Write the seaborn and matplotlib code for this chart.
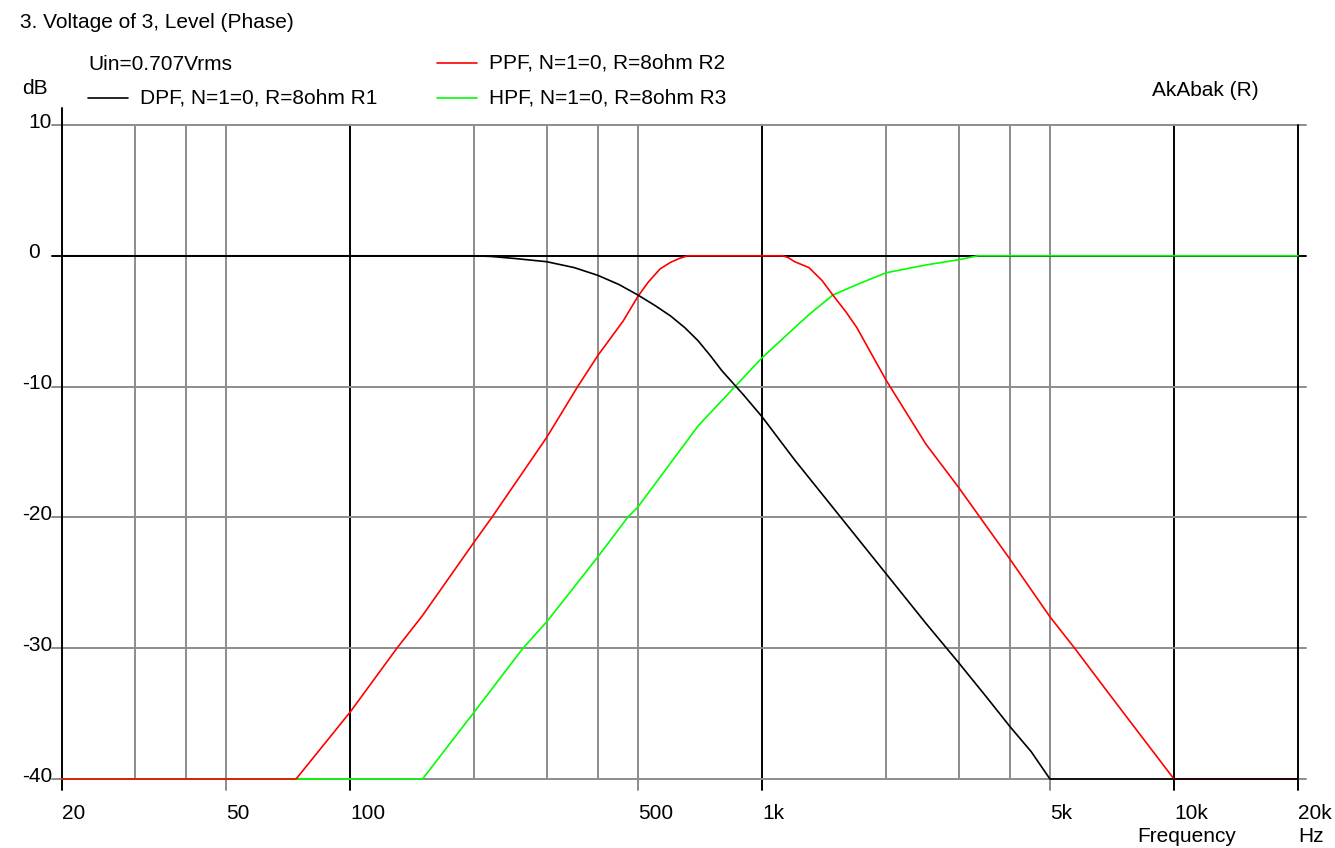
import numpy as np
import pandas as pd
import matplotlib
matplotlib.use("Agg")
import matplotlib.pyplot as plt
from matplotlib.lines import Line2D
from matplotlib.transforms import ScaledTranslation
import seaborn as sns

# --- Data ---
freq_dpf = [20, 200, 220, 250, 300, 350, 400, 450, 500, 550, 600, 650, 700, 750, 800, 900,
            1000, 1200, 1500, 2000, 2500, 3000, 3500, 4000, 4500, 5000, 20000]
db_dpf = [0, 0, -0.05, -0.2, -0.45, -0.9, -1.5, -2.2, -3.0, -3.8, -4.6, -5.5, -6.5, -7.65, -8.8,
          -10.6, -12.3, -15.6, -19.4, -24.3, -28.1, -31.1, -33.7, -36.0, -37.9, -40, -40]

freq_ppf = [20, 74, 100, 130, 150, 200, 221, 300, 357, 400, 460, 500, 530, 566, 600, 630, 660,
            1124, 1160, 1200, 1300, 1400, 1486, 1600, 1700, 2000, 2500, 3000, 4000, 5000,
            5740, 7000, 10000, 20000]
db_ppf = [-40, -40, -34.9, -30, -27.5, -21.9, -20.0, -13.9, -10, -7.6, -5, -3.1, -2.0, -1, -0.5,
          -0.2, 0, 0, -0.15, -0.45, -0.9, -1.9, -3, -4.3, -5.5, -9.5, -14.4, -17.7, -23.2,
          -27.6, -30, -33.6, -40, -40]

freq_hpf = [20, 150, 200, 263, 300, 400, 472, 500, 700, 860, 1000, 1200, 1300, 1486, 1700,
            2000, 2500, 3000, 3340, 20000]
db_hpf = [-40, -40, -34.9, -30, -28, -23, -20, -19.2, -13, -10, -7.8, -5.5, -4.5, -3, -2.2,
          -1.3, -0.7, -0.3, 0, 0]

series_names = ["DPF, N=1=0, R=8ohm R1", "PPF, N=1=0, R=8ohm R2", "HPF, N=1=0, R=8ohm R3"]
series_colors = ["#000000", "#ff0000", "#00ff00"]

x_ticks = [20, 50, 100, 500, 1000, 5000, 10000, 20000]
x_labels = ["20", "50", "100", "500", "1k", "5k", "10k", "20k"]
x_grid_gray = [30, 40, 50, 200, 300, 400, 500, 2000, 3000, 4000, 5000]
x_grid_black = [100, 1000, 10000]
y_ticks = [10, 0, -10, -20, -30, -40]
y_labels = ["10", "0", "-10", "-20", "-30", "-40"]

df = pd.concat([
    pd.DataFrame({"freq": freq_hpf, "db": db_hpf, "curve": series_names[2]}),
    pd.DataFrame({"freq": freq_ppf, "db": db_ppf, "curve": series_names[1]}),
    pd.DataFrame({"freq": freq_dpf, "db": db_dpf, "curve": series_names[0]}),
])

# --- Figure setup ---
sns.set_style("white")
plt.rcParams["font.family"] = ["Liberation Sans", "DejaVu Sans"]
plt.rcParams["text.color"] = "black"
plt.rcParams["xtick.color"] = "black"
plt.rcParams["xtick.labelcolor"] = "black"
FS = 15

W, H = 1335, 848
fig = plt.figure(figsize=(W / 100, H / 100), dpi=100)
L, R, T, B = 62, 1298, 125, 779
ax = fig.add_axes([L / W, 1 - B / H, (R - L) / W, (B - T) / H])

ax.set_xscale("log")
ax.set_xlim(20, 20000)
ax.set_ylim(-40, 10)
for s in ax.spines.values():
    s.set_visible(False)

pw, ph = R - L, B - T
gray = "#8c8c8c"
glw = 1.4

# vertical grid
for f in x_grid_gray:
    ymin = -11 / ph if f in x_ticks else 0
    ax.axvline(f, ymin=ymin, ymax=1, color=gray, lw=glw, zorder=1, clip_on=False)
for f in x_grid_black:
    ax.axvline(f, ymin=-11 / ph, ymax=1, color="black", lw=glw, zorder=1, clip_on=False)
ax.axvline(20, ymin=-11 / ph, ymax=1 + 17 / ph, color="black", lw=glw, zorder=2, clip_on=False)
ax.axvline(20000, ymin=-11 / ph, ymax=1, color="black", lw=glw, zorder=2, clip_on=False)

# horizontal grid
for v in y_ticks:
    c = "black" if v == 0 else gray
    ax.axhline(v, xmin=-10 / pw, xmax=1 + 8 / pw, color=c, lw=glw, zorder=1, clip_on=False)

# curves
sns.lineplot(data=df, x="freq", y="db", hue="curve",
             hue_order=[series_names[2], series_names[1], series_names[0]],
             palette=dict(zip(series_names, series_colors)),
             estimator=None, sort=False, lw=1.2, legend=False, ax=ax, zorder=3)
for ln in ax.lines[-3:]:
    ln.set_clip_on(False)

ax.set_xlabel("")
ax.set_ylabel("")
ax.set_xticks(x_ticks)
ax.set_xticklabels(x_labels, ha="left", fontsize=FS)
ax.minorticks_off()
ax.tick_params(axis="x", length=0, pad=18)
ax.set_yticks([])

# y labels, left aligned
off = ScaledTranslation(0, 3 / 100, fig.dpi_scale_trans)
for v, lab in zip(y_ticks, y_labels):
    xpos = (22 - L) / pw if lab.startswith("-") else (28 - L) / pw
    ax.text(xpos, v, lab, transform=ax.get_yaxis_transform() + off,
            ha="left", va="center", fontsize=FS)


def ftext(x, y, s, **kw):
    fig.text(x / W, 1 - y / H, s, fontsize=FS, va="center", **kw)


ftext(20, 22, "3. Voltage of 3, Level (Phase)")
ftext(88, 64, "Uin=0.707Vrms")
ftext(22, 88, "dB")
ftext(1152, 90, "AkAbak (R)")
ftext(1137, 836, "Frequency")
ftext(1298, 836, "Hz")

# legend
leg = [(88, 98, 140, 0), (437, 63, 489, 1), (437, 98, 489, 2)]
for x0, y0, xt, i in leg:
    fig.add_artist(Line2D([x0 / W, (x0 + 40) / W], [1 - y0 / H] * 2,
                          transform=fig.transFigure, color=series_colors[i], lw=1.2))
    ftext(xt, y0, series_names[i])

fig.savefig("out.png", dpi=100)
